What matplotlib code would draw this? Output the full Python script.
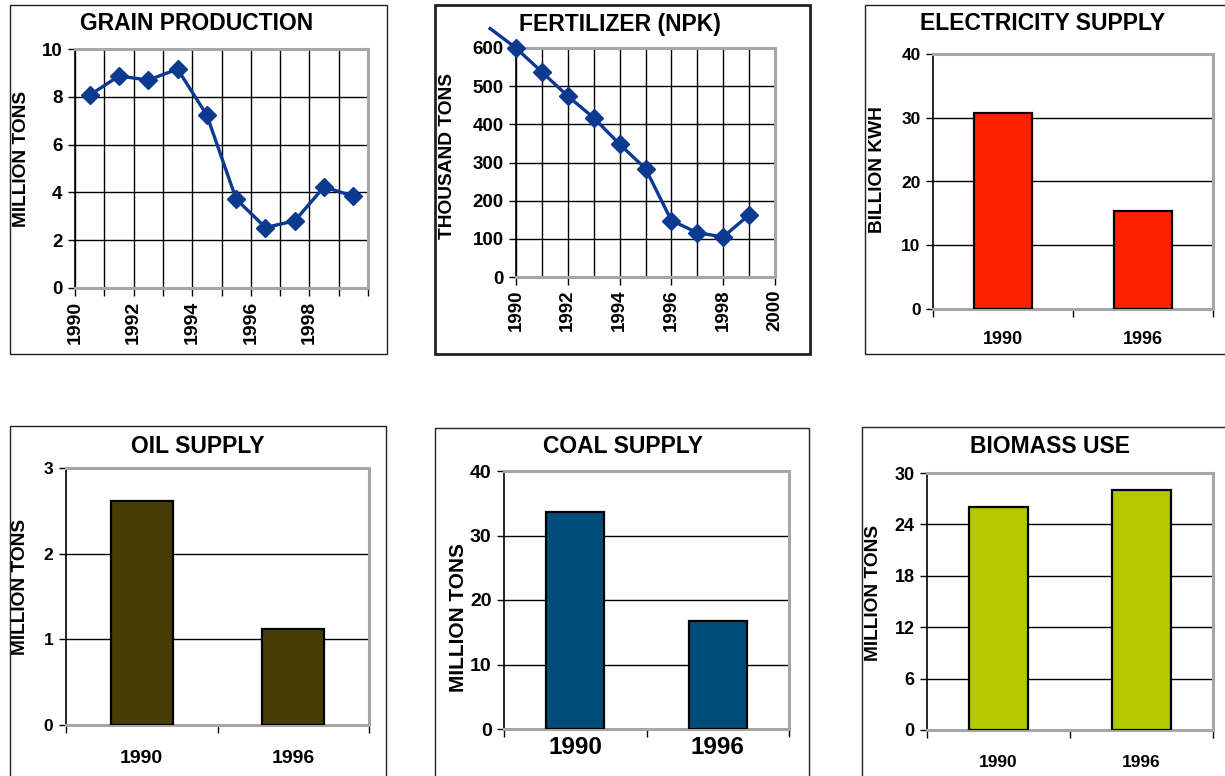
import matplotlib
matplotlib.use('Agg')
import matplotlib.pyplot as plt
from matplotlib.patches import Rectangle
from matplotlib.ticker import FixedLocator

plt.rcParams['font.family'] = ['Liberation Sans', 'DejaVu Sans']
plt.rcParams['font.weight'] = 'bold'

# ---------------- data ----------------
grain_years = [1990.5, 1991.5, 1992.5, 1993.5, 1994.5, 1995.5, 1996.5, 1997.5, 1998.5, 1999.5]
grain_values = [8.07, 8.87, 8.70, 9.16, 7.23, 3.72, 2.53, 2.81, 4.23, 3.84]

fert_years = [1989, 1990, 1991, 1992, 1993, 1994, 1995, 1996, 1997, 1998, 1999]
fert_values = [651, 600, 537, 474, 417, 348, 284, 148, 116, 105, 163]

bar_categories = ['1990', '1996']
electricity_values = [30.8, 15.3]
oil_values = [2.62, 1.12]
coal_values = [33.7, 16.8]
biomass_values = [26.0, 28.0]

W, H = 1225, 776
fig = plt.figure(figsize=(W / 100, H / 100), dpi=100)

LINE_COLOR = '#0B3A90'
GRAY = '#A6A6A6'


def add_ax(l, t, r, b):
    return fig.add_axes([l / W, 1 - b / H, (r - l) / W, (b - t) / H])


def frame(l, t, r, b, lw=1.0):
    fig.patches.append(Rectangle((l / W, 1 - b / H), (r - l) / W, (b - t) / H,
                                 transform=fig.transFigure, fill=False,
                                 edgecolor='#222222', linewidth=lw, zorder=0))


def ftext(x, y, s, size, rot=0):
    fig.text(x / W, 1 - y / H, s, fontsize=size, fontweight='bold',
             rotation=rot, ha='center', va='center')


def style_axes(ax, ysize):
    ax.set_facecolor('white')
    for s in ('top', 'right', 'bottom'):
        ax.spines[s].set_color(GRAY)
        ax.spines[s].set_linewidth(2.2)
    ax.spines['left'].set_color('black')
    ax.spines['left'].set_linewidth(1.2)
    ax.tick_params(axis='y', direction='out', length=5, width=1, labelsize=ysize, pad=4)
    ax.set_axisbelow(True)
    ax.grid(axis='y', color='black', linewidth=1)
    for lab in ax.get_yticklabels():
        lab.set_fontweight('bold')


def bar_panel(l, t, r, b, values, color, ymax, ystep, xsize, ysize, xpad):
    ax = add_ax(l, t, r, b)
    x = list(range(len(bar_categories)))
    ax.bar(x, values, width=0.41, color=color, edgecolor='black', linewidth=1.6, zorder=3)
    ax.set_xlim(-0.5, len(bar_categories) - 0.5)
    ax.set_ylim(0, ymax)
    n = int(round(ymax / ystep)) + 1
    ax.set_yticks([i * ystep for i in range(n)])
    ax.set_yticklabels([str(int(i * ystep)) for i in range(n)], fontweight='bold')
    ax.set_xticks(x)
    ax.set_xticklabels(bar_categories, fontweight='bold')
    ax.xaxis.set_minor_locator(FixedLocator([-0.5, 0.5, 1.5]))
    ax.tick_params(axis='x', which='major', length=0, labelsize=xsize, pad=xpad)
    ax.tick_params(axis='x', which='minor', direction='out', length=6, width=1, color='black')
    style_axes(ax, ysize)
    return ax


# ---------------- GRAIN PRODUCTION ----------------
frame(10, 5, 387, 354)
ax = add_ax(75, 49, 368, 288)
ax.plot(grain_years, grain_values, color=LINE_COLOR, linewidth=2.4, marker='D',
        markersize=9.5, markeredgecolor=LINE_COLOR, zorder=4)
ax.set_xlim(1990, 2000)
ax.set_ylim(0, 10)
ax.set_yticks([0, 2, 4, 6, 8, 10])
ax.set_yticklabels(['0', '2', '4', '6', '8', '10'], fontweight='bold')
years = list(range(1990, 2001))
ax.set_xticks(years)
ax.set_xticklabels([str(y) if (y % 2 == 0 and y < 2000) else '' for y in years],
                   rotation=90, fontweight='bold')
ax.tick_params(axis='x', direction='out', length=6, width=1, labelsize=14, pad=3)
style_axes(ax, 13.5)
ax.grid(axis='x', color='black', linewidth=1)
ftext(197, 24, 'GRAIN PRODUCTION', 16.5)
ftext(22, 159, 'MILLION TONS', 13.8, 90)

# ---------------- FERTILIZER ----------------
frame(435, 5, 810, 354, lw=2.0)
ax = add_ax(516, 48, 775, 277)
ax.plot(fert_years, fert_values, color=LINE_COLOR, linewidth=2.4, marker='D',
        markersize=9.5, markeredgecolor=LINE_COLOR, markevery=list(range(1, len(fert_years))),
        zorder=4, clip_on=False)
ax.set_xlim(1990, 2000)
ax.set_ylim(0, 600)
ax.set_yticks([0, 100, 200, 300, 400, 500, 600])
ax.set_yticklabels(['0', '100', '200', '300', '400', '500', '600'], fontweight='bold')
ax.set_xticks([1990, 1992, 1994, 1996, 1998, 2000])
ax.set_xticklabels(['1990', '1992', '1994', '1996', '1998', '2000'], rotation=90,
                   fontweight='bold')
ax.xaxis.set_minor_locator(FixedLocator(list(range(1990, 2001))))
ax.tick_params(axis='x', which='major', direction='out', length=6, width=1, labelsize=13.5, pad=3)
ax.tick_params(axis='x', which='minor', length=0)
style_axes(ax, 13.5)
ax.grid(axis='x', which='both', color='black', linewidth=1)
ftext(620, 24, 'FERTILIZER (NPK)', 16.5)
ftext(448, 156, 'THOUSAND TONS', 13.8, 90)

# ---------------- ELECTRICITY ----------------
frame(865, 5, 1240, 354)
bar_panel(933, 54, 1213, 309, electricity_values, '#FF2200', 40, 10, 13, 12.5, 16)
ftext(1043, 24, 'ELECTRICITY SUPPLY', 16.5)
ftext(877, 170, 'BILLION KWH', 13.8, 90)

# ---------------- OIL ----------------
frame(10, 426, 386, 790)
bar_panel(66, 468, 369, 725, oil_values, '#453C06', 3, 1, 14, 12.5, 18)
ftext(198, 447, 'OIL SUPPLY', 16.5)
ftext(21, 587, 'MILLION TONS', 13.8, 90)

# ---------------- COAL ----------------
frame(435, 428, 809, 790)
bar_panel(504, 471, 789, 729, coal_values, '#004D7A', 40, 10, 17.5, 14, 5)
ftext(623, 447, 'COAL SUPPLY', 16.5)
ftext(459, 617, 'MILLION TONS', 15, 90)

# ---------------- BIOMASS ----------------
frame(862, 427, 1240, 790)
bar_panel(927, 473, 1213, 730, biomass_values, '#B4C800', 30, 6, 12.5, 13, 18)
ftext(1050, 447, 'BIOMASS USE', 16.5)
ftext(873, 593, 'MILLION TONS', 13.8, 90)

fig.savefig('out.png', dpi=100)
